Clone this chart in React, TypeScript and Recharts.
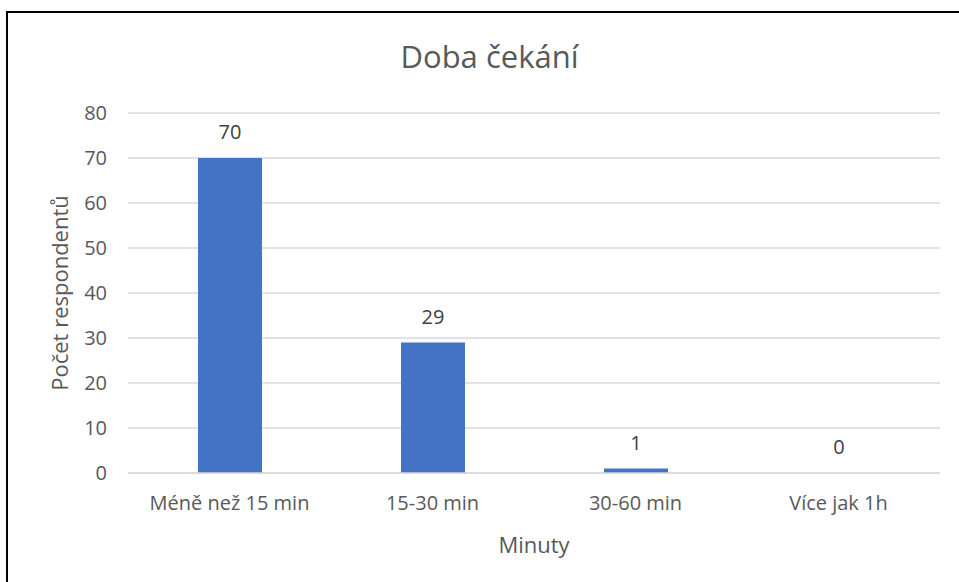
import { BarChart, Bar, XAxis, YAxis, CartesianGrid, LabelList } from "recharts";

// waiting time categories and respondent counts
const categories = ["Méně než 15 min", "15-30 min", "30-60 min", "Více jak 1h"];
const respondents = [70, 29, 1, 0];
const yTicks = [0, 10, 20, 30, 40, 50, 60, 70, 80];

const data = categories.map((name, i) => ({ name, value: respondents[i] }));

const FONT = "'Open Sans', sans-serif";
const GREY = "#595959";

const XTitle = ({ viewBox }: any) => {
  const cx = viewBox.x + viewBox.width / 2;
  return (
    <text x={cx} y={viewBox.y + 80} textAnchor="middle" fill={GREY} fontSize={22} fontFamily={FONT}>
      Minuty
    </text>
  );
};

const YTitle = ({ viewBox }: any) => {
  const cy = viewBox.y + viewBox.height / 2;
  const x = 68;
  return (
    <text
      x={x}
      y={cy}
      textAnchor="middle"
      fill={GREY}
      fontSize={22}
      fontFamily={FONT}
      transform={`rotate(-90, ${x}, ${cy})`}
    >
      Počet respondentů
    </text>
  );
};

// zero-height bars get no label from LabelList, so draw it ourselves
const BarValue = (props: any) => {
  const { x, y, width, value } = props;
  return (
    <text
      x={x + width / 2}
      y={y - 19}
      textAnchor="middle"
      fill="#404040"
      fontSize={20}
      fontFamily={FONT}
    >
      {value}
    </text>
  );
};

export default function App() {
  return (
    <div style={{ position: "fixed", left: 0, top: 0, width: 959, height: 582, overflow: "hidden", background: "#fff" }}>
      <div
        style={{
          position: "absolute",
          left: 6,
          top: 11,
          width: 1000,
          height: 600,
          border: "2px solid #000",
          boxSizing: "border-box",
        }}
      />
      <div
        style={{
          position: "absolute",
          left: 0,
          width: 959,
          top: 35,
          textAlign: "center",
          paddingLeft: 20,
          boxSizing: "border-box",
          fontFamily: FONT,
          fontSize: 31,
          color: GREY,
        }}
      >
        Doba čekání
      </div>
      <div style={{ position: "absolute", left: 0, top: 0 }}>
        <BarChart
          width={959}
          height={582}
          data={data}
          margin={{ top: 113, right: 19, left: 40, bottom: 39 }}
        >
          <CartesianGrid vertical={false} stroke="#d9d9d9" strokeWidth={1.5} />
          <XAxis
            dataKey="name"
            height={70}
            tickLine={false}
            tickSize={0}
            tickMargin={23}
            axisLine={{ stroke: "#d9d9d9", strokeWidth: 1.5 }}
            tick={{ fill: GREY, fontSize: 20, fontFamily: FONT }}
            label={<XTitle />}
          />
          <YAxis
            width={88}
            domain={[0, 80]}
            ticks={yTicks}
            interval={0}
            axisLine={false}
            tickLine={false}
            tickSize={0}
            tickMargin={21}
            tick={{ fill: GREY, fontSize: 20, fontFamily: FONT }}
            label={<YTitle />}
          />
          <Bar dataKey="value" fill="#4472C4" barSize={64} minPointSize={0.01} isAnimationActive={false}>
            <LabelList dataKey="value" content={<BarValue />} />
          </Bar>
        </BarChart>
      </div>
    </div>
  );
}
